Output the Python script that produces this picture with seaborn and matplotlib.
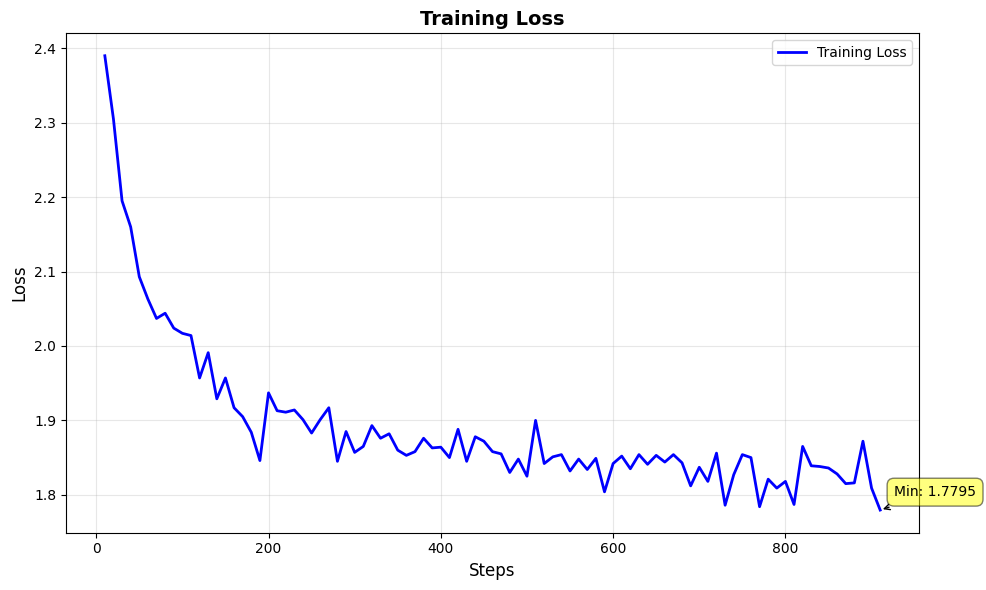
import numpy as np
import pandas as pd
import matplotlib
matplotlib.use('Agg')
import matplotlib.pyplot as plt
import seaborn as sns

# 训练步数与损失
steps = list(range(10, 920, 10))
loss = [
    2.390, 2.305, 2.195, 2.160, 2.093, 2.063, 2.037, 2.044, 2.024, 2.017,
    2.014, 1.957, 1.991, 1.929, 1.957, 1.917, 1.905, 1.884, 1.846, 1.937,
    1.913, 1.911, 1.914, 1.901, 1.883, 1.901, 1.917, 1.845, 1.885, 1.857,
    1.865, 1.893, 1.876, 1.882, 1.860, 1.853, 1.858, 1.876, 1.863, 1.864,
    1.850, 1.888, 1.845, 1.878, 1.872, 1.858, 1.855, 1.830, 1.848, 1.825,
    1.900, 1.842, 1.851, 1.854, 1.832, 1.848, 1.834, 1.849, 1.804, 1.842,
    1.852, 1.835, 1.854, 1.841, 1.853, 1.844, 1.854, 1.843, 1.812, 1.837,
    1.818, 1.856, 1.786, 1.827, 1.854, 1.850, 1.784, 1.821, 1.809, 1.818,
    1.787, 1.865, 1.839, 1.838, 1.836, 1.828, 1.815, 1.816, 1.872, 1.809,
    1.7795,
]

df = pd.DataFrame({'step': steps, 'loss': loss})

fig, ax = plt.subplots(figsize=(9.86, 5.9), dpi=100)

sns.lineplot(data=df, x='step', y='loss', color='blue', linewidth=2,
             label='Training Loss', ax=ax)

ax.set_title('Training Loss', fontsize=14, fontweight='bold')
ax.set_xlabel('Steps', fontsize=12)
ax.set_ylabel('Loss', fontsize=12)
ax.grid(True, alpha=0.3)
ax.legend(loc='upper right')

# 标注最小值
min_idx = int(np.argmin(loss))
min_step, min_loss = steps[min_idx], loss[min_idx]
ax.annotate(f'Min: {min_loss:.4f}', xy=(min_step, min_loss),
            xytext=(10, 10), textcoords='offset points',
            bbox=dict(boxstyle='round,pad=0.5', fc='yellow', alpha=0.5),
            arrowprops=dict(arrowstyle='->', connectionstyle='arc3,rad=0'))

fig.subplots_adjust(left=0.067, right=0.932, top=0.944, bottom=0.097)
plt.savefig('out.png', dpi=100)
plt.close()
